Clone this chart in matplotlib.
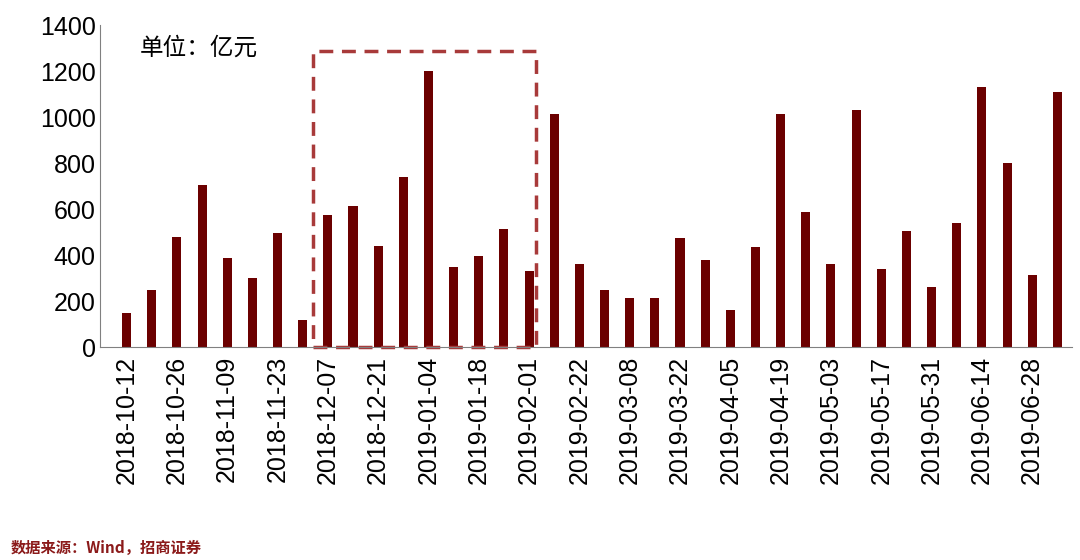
import datetime as DT

import matplotlib
matplotlib.use('Agg')
import matplotlib.pyplot as plt
from matplotlib.patches import Rectangle

plt.rcParams['font.family'] = ['Liberation Sans', 'Noto Sans CJK SC', 'DejaVu Sans']

# weekly dates, the Spring Festival week 2019-02-08 is missing
start = DT.date(2018, 10, 12)
dates = []
d = start
while len(dates) < 38:
    if d != DT.date(2019, 2, 8):
        dates.append(d)
    d += DT.timedelta(days=7)
labels = [x.strftime('%Y-%m-%d') for x in dates]

values = [150, 250, 480, 705, 390, 300, 495, 120, 575, 615,
          440, 740, 1200, 350, 395, 515, 330, 1015, 360, 250,
          215, 215, 475, 380, 160, 435, 1015, 590, 360, 1030,
          340, 505, 260, 540, 1130, 800, 315, 1110]

fig = plt.figure(figsize=(10.8, 5.6), dpi=100)
ax = fig.add_axes([0.093, 0.38, 0.9, 0.575])

x = list(range(len(values)))
ax.bar(x, values, width=0.36, color='#6B0000')
ax.set_xlim(-1.04, 37.6)
ax.set_ylim(0, 1400)
ax.set_yticks(range(0, 1401, 200))
ax.set_xticks(x[::2])
ax.set_xticklabels(labels[::2], rotation=90, fontsize=18)
ax.tick_params(axis='y', labelsize=18, length=0)
ax.tick_params(axis='x', length=0, pad=6)
for s in ('top', 'right'):
    ax.spines[s].set_visible(False)
ax.spines['left'].set_color('#808080')
ax.spines['bottom'].set_color('#808080')

ax.add_patch(Rectangle((7.42, 0), 8.84, 1290, fill=False, edgecolor='#A83A3A',
                       linestyle=(0, (4, 2.5)), linewidth=2.5, clip_on=False))

ax.text(0.04, 0.965, '单位：亿元', transform=ax.transAxes, fontsize=17,
        va='top', family=['Noto Sans CJK SC', 'DejaVu Sans'])

fig.text(0.01, 0.012, '数据来源：Wind，招商证券', fontsize=11, color='#8B1A1A',
         fontweight='bold', family=['Noto Sans CJK SC', 'DejaVu Sans'])

fig.savefig('out.png')
